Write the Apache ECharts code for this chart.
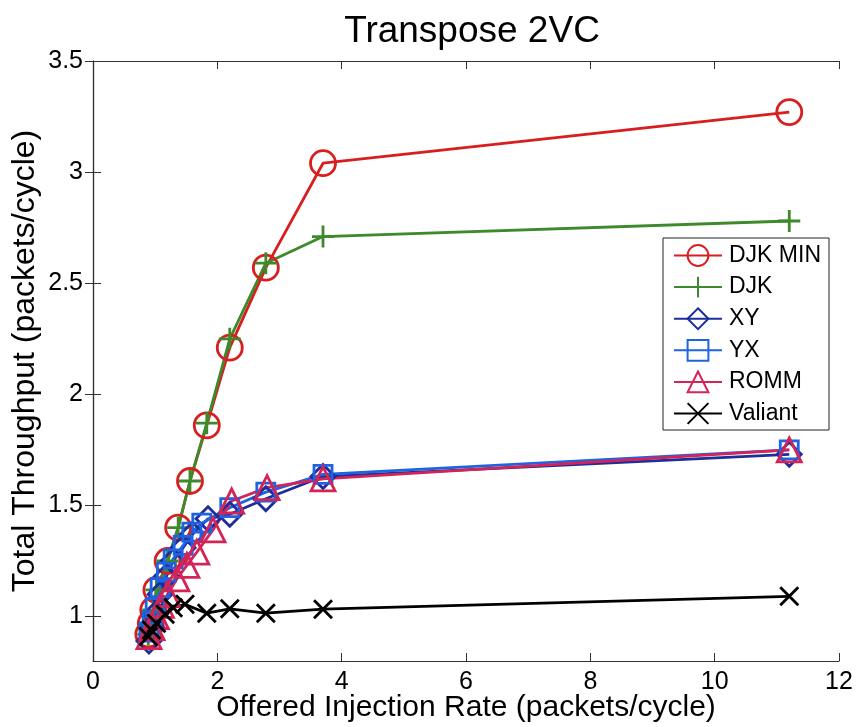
<!DOCTYPE html>
<html>
<head>
<meta charset="utf-8">
<script src="https://cdn.jsdelivr.net/npm/echarts@6/dist/echarts.min.js"></script>
<style>
  html, body { margin: 0; padding: 0; background: #fff; }
  #chart { width: 859px; height: 727px; }
</style>
</head>
<body>
<div id="chart"></div>
<script>
// Throughput vs. offered injection rate, transpose traffic, 2 virtual channels
const seriesNames = ['DJK MIN', 'DJK', 'XY', 'YX', 'ROMM', 'Valiant'];

const djkMinX = [0.89, 0.93, 0.97, 1.02, 1.2, 1.37, 1.56, 1.83, 2.2, 2.78, 3.7, 11.2];
const djkMinY = [0.92, 0.97, 1.03, 1.12, 1.25, 1.40, 1.61, 1.86, 2.21, 2.57, 3.04, 3.27];

const djkX = [0.89, 0.93, 0.97, 1.02, 1.2, 1.37, 1.56, 1.83, 2.2, 2.78, 3.7, 11.2];
const djkY = [0.92, 0.97, 1.03, 1.12, 1.25, 1.40, 1.61, 1.87, 2.25, 2.59, 2.71, 2.78];

const xyX = [0.9, 0.95, 1.0, 1.08, 1.18, 1.29, 1.45, 1.6, 1.85, 2.2, 2.78, 3.7, 11.2];
const xyY = [0.89, 0.95, 1.01, 1.10, 1.18, 1.25, 1.31, 1.37, 1.44, 1.46, 1.53, 1.63, 1.73];

const yxX = [0.9, 0.95, 1.0, 1.08, 1.18, 1.29, 1.45, 1.59, 1.75, 2.2, 2.78, 3.7, 11.2];
const yxY = [0.93, 0.98, 1.04, 1.13, 1.20, 1.26, 1.32, 1.38, 1.42, 1.49, 1.56, 1.64, 1.75];

const rommX = [0.9, 0.95, 1.02, 1.1, 1.2, 1.35, 1.51, 1.67, 1.93, 2.23, 2.8, 3.7, 11.2];
const rommY = [0.91, 0.95, 1.0, 1.05, 1.10, 1.17, 1.23, 1.29, 1.39, 1.52, 1.58, 1.62, 1.75];

const valiantX = [0.89, 0.94, 1.02, 1.16, 1.29, 1.48, 1.83, 2.2, 2.78, 3.7, 11.2];
const valiantY = [0.91, 0.94, 0.97, 1.01, 1.04, 1.055, 1.015, 1.035, 1.015, 1.033, 1.091];

const xTicks = [0, 2, 4, 6, 8, 10, 12];
const yTicks = [1, 1.5, 2, 2.5, 3, 3.5];

const pair = (xs, ys) => xs.map((x, i) => [x, ys[i]]);

// open-stroke marker shapes
const PLUS = 'path://M10,0 L10,20 M0,10 L20,10';
const CROSS = 'path://M0,0 L20,20 M20,0 L0,20';

function lineSeries(name, data, color, symbol, size) {
  return {
    name: name,
    type: 'line',
    data: data,
    symbol: symbol,
    symbolSize: size,
    symbolKeepAspect: true,
    showAllSymbol: true,
    lineStyle: { color: color, width: 2.8 },
    itemStyle: { color: 'rgba(0,0,0,0)', borderColor: color, borderWidth: 2.8 },
    emphasis: { disabled: true },
    animation: false,
    z: 3
  };
}

const FONT = 'Liberation Sans, Arial, sans-serif';
const chart = echarts.init(document.getElementById('chart'), null, { renderer: 'canvas' });

const axisLine = { show: true, lineStyle: { color: '#333', width: 1.2 } };
const tick = { inside: true, length: 8, lineStyle: { color: '#333' } };

chart.setOption({
  backgroundColor: '#fff',
  animation: false,
  title: {
    text: 'Transpose 2VC',
    left: 467, top: 8, textAlign: 'center',
    textStyle: { fontFamily: FONT, fontSize: 37, fontWeight: 'normal', color: '#000' }
  },
  grid: { left: 93, right: 20, top: 61, bottom: 66, containLabel: false, outerBoundsMode: 'none' },
  legend: {
    orient: 'vertical',
    left: 663, top: 238,
    width: 167,
    backgroundColor: '#fff',
    borderColor: '#222', borderWidth: 1,
    padding: [6, 8, 5, 10],
    itemWidth: 48, itemHeight: 26, itemGap: 8.6,
    textStyle: { fontFamily: FONT, fontSize: 23, color: '#000', padding: [0, 0, 0, 2] },
    data: seriesNames
  },
  xAxis: [{
    type: 'value', min: 0, max: 12, interval: 2,
    name: 'Offered Injection Rate (packets/cycle)',
    nameLocation: 'middle', nameGap: 32, nameMoveOverlap: false,
    nameTextStyle: { fontFamily: FONT, fontSize: 30, color: '#000' },
    axisLine: axisLine,
    axisTick: tick,
    axisLabel: { fontFamily: FONT, fontSize: 25, color: '#000', margin: 9, customValues: xTicks },
    splitLine: { show: false }
  }, {
    type: 'value', min: 0, max: 12, interval: 2, position: 'top',
    axisLine: axisLine,
    axisTick: tick,
    axisLabel: { show: false },
    splitLine: { show: false }
  }],
  yAxis: [{
    type: 'value', min: 0.8, max: 3.5,
    name: 'Total Throughput (packets/cycle)',
    nameLocation: 'middle', nameGap: 52, nameMoveOverlap: false,
    nameTextStyle: { fontFamily: FONT, fontSize: 32, color: '#000' },
    axisLine: axisLine,
    axisTick: Object.assign({ customValues: yTicks }, tick),
    axisLabel: { fontFamily: FONT, fontSize: 25, color: '#000', margin: 10, customValues: yTicks },
    splitLine: { show: false }
  }, {
    type: 'value', min: 0.8, max: 3.5, position: 'right',
    axisLine: axisLine,
    axisTick: Object.assign({ customValues: yTicks }, tick),
    axisLabel: { show: false },
    splitLine: { show: false }
  }],
  series: [
    lineSeries('DJK MIN', pair(djkMinX, djkMinY), '#d81e1e', 'circle', 25),
    lineSeries('DJK', pair(djkX, djkY), '#3c8a2c', PLUS, 22),
    lineSeries('XY', pair(xyX, xyY), '#1c2d9c', 'diamond', 24),
    lineSeries('YX', pair(yxX, yxY), '#1f63e0', 'rect', 18),
    lineSeries('ROMM', pair(rommX, rommY), '#d42456', 'triangle', 24),
    lineSeries('Valiant', pair(valiantX, valiantY), '#000000', CROSS, 18)
  ]
});
</script>
</body>
</html>
